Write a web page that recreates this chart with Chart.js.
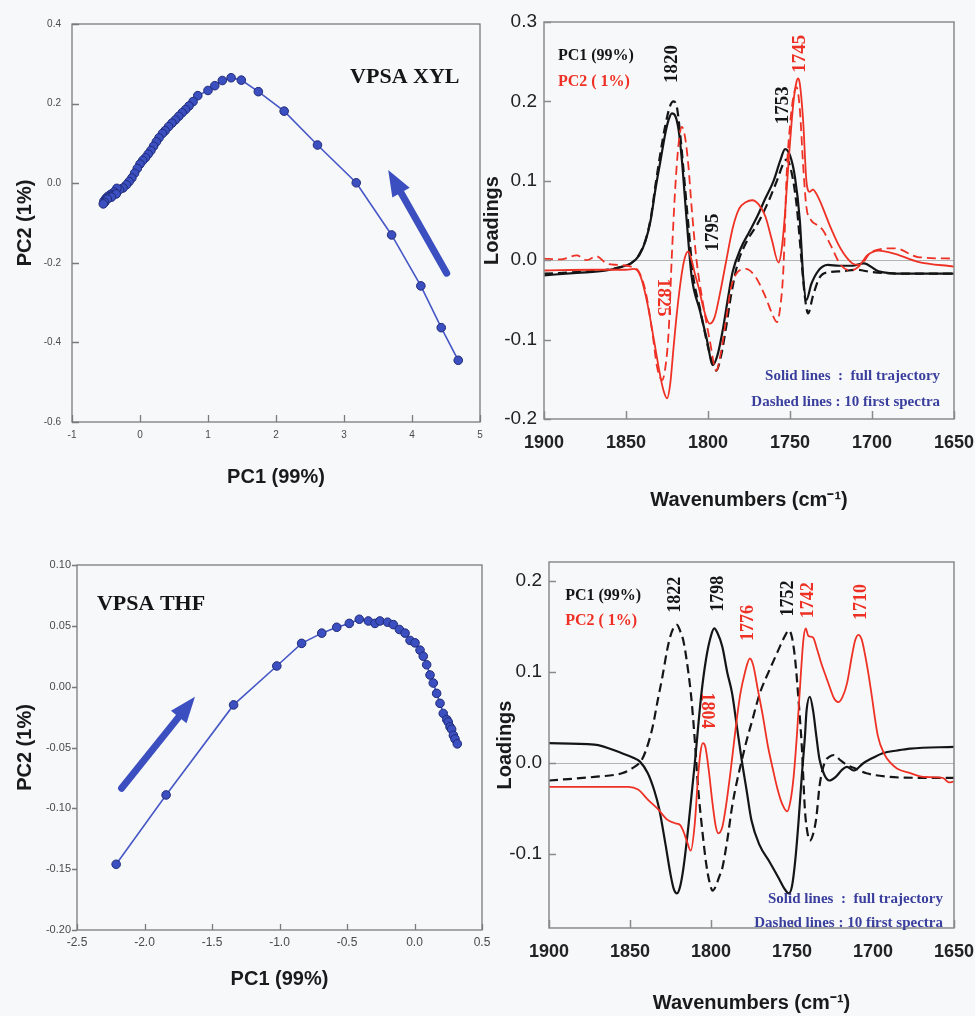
<!DOCTYPE html>
<html lang="en">
<head>
<meta charset="UTF-8">
<title>PCA score trajectories and loadings - VPSA XYL / VPSA THF</title>
<script src="https://cdn.jsdelivr.net/npm/chart.js@4/dist/chart.umd.min.js"></script>
<style>
  body { margin: 0; background: #f7f8fa; }
  #wrap { position: relative; width: 975px; height: 1016px; overflow: hidden; }
  .panel { position: absolute; }
  canvas { display: block; }
</style>
</head>
<body>
<div id="wrap">
  <div class="panel" style="left:0;top:0"><canvas id="xylScores" width="490" height="500"></canvas></div>
  <div class="panel" style="left:478px;top:0"><canvas id="xylLoadings" width="497" height="520"></canvas></div>
  <div class="panel" style="left:0;top:520px"><canvas id="thfScores" width="490" height="496"></canvas></div>
  <div class="panel" style="left:490px;top:520px"><canvas id="thfLoadings" width="485" height="496"></canvas></div>
</div>
<script>
// ---- score trajectories (PC1 vs PC2) ----
const xylPc1 = [4.68, 4.43, 4.13, 3.7, 3.18, 2.61, 2.12, 1.74, 1.49, 1.34, 1.21, 1.1, 1.0, 0.85, 0.78, 0.72, 0.67, 0.62, 0.57, 0.52, 0.47, 0.42, 0.37, 0.33, 0.28, 0.24, 0.2, 0.16, 0.12, 0.08, 0.04, 0.0, -0.04, -0.08, -0.12, -0.16, -0.2, -0.25, -0.3, -0.34, -0.38, -0.43, -0.47, -0.5, -0.53, -0.5, -0.45, -0.4, -0.35, -0.42, -0.48, -0.52, -0.54];
const xylPc2 = [-0.445, -0.363, -0.258, -0.13, 0.001, 0.096, 0.181, 0.23, 0.259, 0.265, 0.258, 0.245, 0.233, 0.22, 0.205, 0.194, 0.185, 0.177, 0.168, 0.159, 0.151, 0.142, 0.132, 0.125, 0.114, 0.104, 0.093, 0.082, 0.073, 0.064, 0.057, 0.048, 0.037, 0.025, 0.013, 0.004, -0.004, -0.012, -0.016, -0.013, -0.022, -0.028, -0.033, -0.038, -0.045, -0.042, -0.036, -0.03, -0.027, -0.035, -0.04, -0.048, -0.052];
const thfPc1 = [-2.21, -1.84, -1.34, -1.02, -0.836, -0.687, -0.576, -0.483, -0.409, -0.342, -0.293, -0.256, -0.2, -0.157, -0.112, -0.07, -0.033, 0.004, 0.041, 0.065, 0.09, 0.115, 0.139, 0.164, 0.189, 0.213, 0.239, 0.25, 0.263, 0.275, 0.288, 0.3, 0.317];
const thfPc2 = [-0.146, -0.089, -0.015, 0.017, 0.0356, 0.044, 0.0488, 0.052, 0.0554, 0.054, 0.052, 0.054, 0.053, 0.051, 0.047, 0.044, 0.038, 0.036, 0.03, 0.025, 0.018, 0.0096, 0.003, -0.0055, -0.0137, -0.022, -0.027, -0.029, -0.033, -0.035, -0.04, -0.043, -0.047];

const xylScoreXTicks = [-1, 0, 1, 2, 3, 4, 5];
const xylScoreYTicks = [-0.6, -0.4, -0.2, 0.0, 0.2, 0.4];
const thfScoreXTicks = [-2.5, -2.0, -1.5, -1.0, -0.5, 0.0, 0.5];
const thfScoreYTicks = [-0.20, -0.15, -0.10, -0.05, 0.00, 0.05, 0.10];

// direction arrows [PC1, PC2] tail -> head
const xylArrow = [[4.51, -0.226], [3.65, 0.033]];
const thfArrow = [[-2.17, -0.0835], [-1.626, -0.0083]];

// ---- loadings, VPSA XYL ----
const xylPc1SolidWn = [1900, 1880, 1862, 1852, 1847, 1842, 1838, 1835, 1832, 1829, 1826, 1824, 1822, 1820, 1818, 1816, 1813, 1810, 1805, 1801, 1797, 1794, 1791, 1788, 1785, 1780, 1775, 1770, 1765, 1760, 1756, 1753, 1750, 1747, 1744, 1742, 1740, 1737, 1733, 1727, 1720, 1712, 1705, 1696, 1680, 1650];
const xylPc1Solid = [-0.019, -0.016, -0.013, -0.008, -0.004, 0.006, 0.025, 0.05, 0.09, 0.125, 0.16, 0.177, 0.185, 0.182, 0.165, 0.128, 0.05, -0.02, -0.063, -0.097, -0.132, -0.118, -0.088, -0.05, -0.015, 0.015, 0.035, 0.055, 0.078, 0.1, 0.125, 0.14, 0.132, 0.105, 0.05, -0.02, -0.05, -0.03, -0.014, -0.006, -0.007, -0.007, -0.004, -0.014, -0.017, -0.017];
const xylPc1DashWn = [1900, 1880, 1862, 1852, 1847, 1842, 1838, 1835, 1832, 1829, 1826, 1823, 1821, 1819, 1817, 1815, 1812, 1809, 1805, 1801, 1798, 1795, 1792, 1789, 1786, 1782, 1776, 1770, 1764, 1758, 1754, 1752, 1749, 1746, 1743, 1741, 1739, 1736, 1732, 1726, 1718, 1710, 1700, 1680, 1650];
const xylPc1Dash = [-0.017, -0.015, -0.012, -0.008, -0.004, 0.007, 0.026, 0.052, 0.095, 0.135, 0.17, 0.195, 0.2, 0.193, 0.16, 0.115, 0.045, -0.02, -0.06, -0.1, -0.125, -0.139, -0.12, -0.085, -0.045, -0.005, 0.025, 0.045, 0.07, 0.1, 0.122, 0.127, 0.11, 0.07, 0.0, -0.045, -0.067, -0.045, -0.022, -0.015, -0.014, -0.012, -0.015, -0.017, -0.017];
const xylPc2SolidWn = [1900, 1870, 1850, 1845, 1841, 1837, 1833, 1829, 1827, 1825, 1823, 1821, 1819, 1816, 1814, 1812, 1810, 1808, 1805, 1803, 1799, 1796, 1793, 1789, 1785, 1781, 1777, 1773, 1769, 1765, 1761, 1757, 1755, 1753, 1751, 1748, 1746, 1745, 1744, 1742, 1740, 1738, 1736, 1733, 1730, 1725, 1719, 1712, 1708, 1703, 1696, 1686, 1672, 1650];
const xylPc2Solid = [-0.013, -0.012, -0.012, -0.011, -0.021, -0.054, -0.1, -0.147, -0.165, -0.174, -0.155, -0.11, -0.067, -0.017, 0.004, 0.011, 0.0, -0.017, -0.04, -0.059, -0.08, -0.072, -0.045, -0.002, 0.04, 0.065, 0.073, 0.0755, 0.07, 0.055, 0.025, -0.003, 0.015, 0.06, 0.12, 0.197, 0.225, 0.229, 0.222, 0.176, 0.1, 0.086, 0.089, 0.08, 0.066, 0.04, 0.014, -0.004, -0.006, 0.006, 0.012, 0.008, -0.002, -0.008];
const xylPc2DashWn = [1900, 1890, 1880, 1874, 1868, 1862, 1855, 1847, 1842, 1838, 1834, 1831, 1828, 1826, 1824, 1822, 1820, 1818, 1816, 1814, 1812, 1810, 1807, 1803, 1799, 1795, 1792, 1789, 1786, 1782, 1777, 1771, 1765, 1761, 1758, 1756, 1754, 1752, 1750, 1748, 1746, 1744, 1742, 1740, 1737, 1734, 1730, 1725, 1719, 1713, 1706, 1700, 1686, 1672, 1650];
const xylPc2Dash = [0.002, 0.001, 0.006, 0.0, 0.005, -0.004, -0.006, -0.008, -0.015, -0.04, -0.09, -0.135, -0.151, -0.135, -0.09, 0.008, 0.09, 0.145, 0.168, 0.155, 0.12, 0.067, 0.0, -0.055, -0.1, -0.139, -0.115, -0.075, -0.035, -0.015, -0.011, -0.021, -0.046, -0.067, -0.078, -0.06, -0.01, 0.11, 0.17, 0.205, 0.218, 0.19, 0.12, 0.067, 0.05, 0.045, 0.038, 0.018, -0.006, -0.013, -0.004, 0.011, 0.015, 0.004, 0.002];

// ---- loadings, VPSA THF ----
const thfPc1SolidWn = [1900, 1872, 1855, 1848, 1844, 1839, 1835, 1832, 1828, 1825, 1823, 1821, 1819, 1817, 1814, 1810, 1806, 1803, 1800, 1798, 1796, 1793, 1790, 1787, 1784, 1781, 1778, 1775, 1770, 1764, 1758, 1755, 1752, 1750, 1748, 1746, 1744, 1742, 1741, 1739, 1737, 1735, 1733, 1730, 1727, 1723, 1719, 1716, 1712, 1706, 1700, 1694, 1685, 1677, 1650];
const thfPc1Solid = [0.022, 0.0205, 0.011, 0.006, 0.002, -0.011, -0.03, -0.05, -0.09, -0.122, -0.138, -0.143, -0.135, -0.115, -0.07, 0.0, 0.075, 0.115, 0.14, 0.148, 0.143, 0.128, 0.1, 0.077, 0.04, 0.003, -0.03, -0.063, -0.09, -0.108, -0.127, -0.137, -0.143, -0.135, -0.107, -0.065, -0.015, 0.03, 0.058, 0.073, 0.058, 0.03, 0.004, -0.013, -0.019, -0.015, -0.007, -0.004, -0.008, 0.0, 0.006, 0.011, 0.014, 0.016, 0.018];
const thfPc1DashWn = [1900, 1872, 1855, 1849, 1843, 1840, 1836, 1833, 1830, 1827, 1825, 1823, 1821, 1819, 1817, 1814, 1812, 1810, 1808, 1805, 1803, 1801, 1799, 1797, 1795, 1793, 1790, 1787, 1784, 1781, 1778, 1775, 1770, 1764, 1760, 1757, 1754, 1752, 1750, 1748, 1746, 1744, 1742, 1741, 1739, 1737, 1735, 1733, 1730, 1727, 1724, 1720, 1716, 1712, 1704, 1690, 1673, 1650];
const thfPc1Dash = [-0.019, -0.015, -0.011, -0.006, 0.003, 0.015, 0.04, 0.068, 0.095, 0.125, 0.14, 0.149, 0.152, 0.145, 0.134, 0.1, 0.069, 0.025, -0.026, -0.08, -0.11, -0.13, -0.14, -0.135, -0.125, -0.115, -0.085, -0.048, -0.02, 0.003, 0.025, 0.044, 0.076, 0.102, 0.118, 0.13, 0.141, 0.146, 0.138, 0.113, 0.07, 0.02, -0.052, -0.07, -0.085, -0.078, -0.06, -0.025, 0.0, 0.007, 0.009, 0.003, -0.002, -0.005, -0.011, -0.015, -0.016, -0.016];
const thfPc2SolidWn = [1900, 1870, 1851, 1845, 1839, 1833, 1827, 1822, 1819, 1817, 1815, 1812.5, 1810, 1808, 1806.5, 1805, 1803.5, 1801.5, 1799, 1797, 1795.5, 1793, 1791, 1788, 1785, 1782, 1779, 1776, 1774, 1771, 1768, 1765, 1762, 1759, 1756, 1753, 1751, 1749, 1747, 1745, 1743, 1741.5, 1740, 1737, 1735, 1732, 1729, 1726, 1724, 1721.5, 1719, 1716, 1713, 1711, 1709, 1707, 1705, 1703, 1701, 1697, 1693, 1689, 1685, 1677, 1669, 1657, 1653, 1650];
const thfPc2Solid = [-0.026, -0.026, -0.026, -0.029, -0.04, -0.05, -0.062, -0.066, -0.068, -0.075, -0.085, -0.096, -0.066, -0.015, 0.012, 0.022, 0.018, -0.006, -0.045, -0.07, -0.077, -0.07, -0.05, -0.01, 0.035, 0.075, 0.1, 0.115, 0.108, 0.08, 0.052, 0.02, -0.005, -0.028, -0.045, -0.053, -0.042, -0.015, 0.03, 0.085, 0.135, 0.148, 0.14, 0.138, 0.128, 0.11, 0.095, 0.08, 0.071, 0.067, 0.072, 0.088, 0.118, 0.135, 0.141, 0.136, 0.12, 0.1, 0.077, 0.03, 0.01, 0.0, -0.006, -0.011, -0.015, -0.016, -0.021, -0.02];

const wnTicks = [1900, 1850, 1800, 1750, 1700, 1650];
const xylLoadTicks = [-0.2, -0.1, 0.0, 0.1, 0.2, 0.3];
const thfLoadTicks = [-0.1, 0.0, 0.1, 0.2];

// peak labels (wavenumber, loading at label centre)
const xylPeakText = ['1820', '1795', '1753', '1745', '1825'];
const xylPeakWn = [1822, 1797, 1754, 1744, 1827.5];
const xylPeakAt = [0.247, 0.035, 0.195, 0.26, -0.047];
const xylPeakPc = [1, 1, 1, 2, 2];
const thfPeakText = ['1822', '1798', '1776', '1752', '1742', '1710', '1804'];
const thfPeakWn = [1822, 1795.5, 1777, 1752.3, 1740, 1707, 1802.7];
const thfPeakAt = [0.185, 0.186, 0.154, 0.181, 0.179, 0.177, 0.058];
const thfPeakPc = [1, 1, 2, 1, 2, 2, 2];

const BLACK = '#151515';
const RED = '#ee3124';
const BLUE = '#3c4fc0';
const NOTE = '#3a3f9e';
const SERIF = "'Liberation Serif', 'Times New Roman', serif";

Chart.defaults.font.family = "'Liberation Sans', Arial, sans-serif";
Chart.defaults.animation = false;

// frame box + tick marks (negative length = inward for x, positive = inward for y)
const framePlugin = {
  id: 'frame',
  afterDatasetsDraw(chart, args, opts) {
    const { ctx, chartArea: a, scales: { x, y } } = chart;
    ctx.save();
    ctx.strokeStyle = opts.color;
    ctx.lineWidth = opts.width;
    ctx.strokeRect(a.left, a.top, a.right - a.left, a.bottom - a.top);
    ctx.beginPath();
    x.ticks.forEach(t => {
      const p = Math.round(x.getPixelForValue(t.value)) + 0.5;
      ctx.moveTo(p, a.bottom);
      ctx.lineTo(p, a.bottom + opts.xTick);
    });
    y.ticks.forEach(t => {
      const p = Math.round(y.getPixelForValue(t.value)) + 0.5;
      ctx.moveTo(a.left, p);
      ctx.lineTo(a.left + opts.yTick, p);
    });
    ctx.stroke();
    ctx.restore();
  }
};

// text placed in data units
const notePlugin = {
  id: 'notes',
  afterDatasetsDraw(chart, args, opts) {
    const { ctx, scales: { x, y } } = chart;
    (opts.items || []).forEach(n => {
      ctx.save();
      ctx.translate(x.getPixelForValue(n.x), y.getPixelForValue(n.y));
      ctx.rotate((n.rot || 0) * Math.PI / 180);
      ctx.font = n.font;
      ctx.fillStyle = n.color;
      ctx.textAlign = n.align || 'left';
      ctx.textBaseline = n.base || 'alphabetic';
      ctx.fillText(n.text, 0, 0);
      ctx.restore();
    });
  }
};

const arrowPlugin = {
  id: 'arrow',
  afterDatasetsDraw(chart, args, opts) {
    if (!opts.from) return;
    const { ctx, scales: { x, y } } = chart;
    const x0 = x.getPixelForValue(opts.from[0]), y0 = y.getPixelForValue(opts.from[1]);
    const x1 = x.getPixelForValue(opts.to[0]), y1 = y.getPixelForValue(opts.to[1]);
    const len = Math.hypot(x1 - x0, y1 - y0), head = 26, hw = 10;
    ctx.save();
    ctx.translate(x0, y0);
    ctx.rotate(Math.atan2(y1 - y0, x1 - x0));
    ctx.strokeStyle = opts.color;
    ctx.fillStyle = opts.color;
    ctx.lineWidth = 7;
    ctx.lineCap = 'round';
    ctx.beginPath();
    ctx.moveTo(0, 0);
    ctx.lineTo(len - head + 4, 0);
    ctx.stroke();
    ctx.beginPath();
    ctx.moveTo(len, 0);
    ctx.lineTo(len - head, -hw);
    ctx.lineTo(len - head, hw);
    ctx.closePath();
    ctx.fill();
    ctx.restore();
  }
};

Chart.register(framePlugin, notePlugin, arrowPlugin);

function pts(xs, ys) {
  return xs.map((v, i) => ({ x: v, y: ys[i] }));
}

function fixTicks(values) {
  return s => { s.ticks = values.map(v => ({ value: v })); };
}

function clean(v, d) {
  return (Math.abs(v) < 1e-9 ? 0 : v).toFixed(d);
}

// area = plot box inside the canvas; w/h = canvas size
function buildOptions(cfg) {
  const { area, w, h } = cfg;
  return {
    responsive: false,
    animation: false,
    layout: { padding: { left: 0, top: area.top, right: w - area.right, bottom: 0 } },
    plugins: {
      legend: { display: false },
      tooltip: { enabled: false },
      frame: cfg.frame,
      notes: { items: cfg.notes },
      arrow: cfg.arrow || {}
    },
    scales: {
      x: {
        type: 'linear',
        reverse: !!cfg.xReverse,
        min: cfg.xMin, max: cfg.xMax,
        afterBuildTicks: fixTicks(cfg.xTicks),
        // fixed axis band, no extra room for overhanging end labels
        afterFit: s => { s.height = h - area.bottom; s.paddingLeft = 0; s.paddingRight = 0; },
        border: { display: false },
        grid: { display: false, drawTicks: false },
        ticks: {
          padding: cfg.xPad,
          color: cfg.tickColor,
          font: cfg.xFont,
          maxRotation: 0,
          autoSkip: false,
          callback: v => clean(v, cfg.xDec)
        },
        title: {
          display: true, text: cfg.xTitle, color: '#1a1a1a',
          font: { size: 20, weight: 'bold' },
          padding: { top: 0, bottom: cfg.xTitlePad }
        }
      },
      y: {
        type: 'linear',
        min: cfg.yMin, max: cfg.yMax,
        afterBuildTicks: fixTicks(cfg.yTicks),
        afterFit: s => { s.width = area.left; s.paddingTop = 0; s.paddingBottom = 0; },
        border: { display: false },
        grid: {
          drawTicks: false,
          color: ctx => (cfg.zeroLine && ctx.tick && Math.abs(ctx.tick.value) < 1e-9) ? '#b4b4b4' : 'rgba(0,0,0,0)',
          lineWidth: 1
        },
        ticks: {
          padding: cfg.yPad,
          color: cfg.tickColor,
          font: cfg.yFont,
          autoSkip: false,
          callback: v => clean(v, cfg.yDec)
        },
        title: {
          display: true, text: cfg.yTitle, color: '#1a1a1a',
          font: { size: 20, weight: 'bold' },
          padding: { top: cfg.yTitlePad, bottom: 0 }
        }
      }
    }
  };
}

function scoreSet(xs, ys) {
  return {
    data: pts(xs, ys),
    showLine: true,
    borderColor: '#4657c6',
    borderWidth: 1.6,
    pointRadius: 4.3,
    pointBackgroundColor: BLUE,
    pointBorderColor: '#1f2b78',
    pointBorderWidth: 1,
    tension: 0
  };
}

function specSet(xs, ys, color, dashed) {
  return {
    data: pts(xs, ys),
    showLine: true,
    borderColor: color,
    borderWidth: color === RED ? 1.8 : 2.2,
    borderDash: dashed ? [9, 5] : [],
    pointRadius: 0,
    cubicInterpolationMode: 'monotone'
  };
}

function peakNotes(text, wn, at, pc, size) {
  return text.map((t, i) => ({
    text: t, x: wn[i], y: at[i],
    rot: (t === '1825' || t === '1804') ? 90 : -90,
    color: pc[i] === 1 ? BLACK : RED,
    font: 'bold ' + size + 'px ' + SERIF,
    align: 'center', base: 'middle'
  }));
}

function legendNotes(x, yPc1, yPc2, xRight, ySolid, yDash) {
  return [
    { text: 'PC1 (99%)', x: x, y: yPc1, color: BLACK, font: 'bold 16px ' + SERIF },
    { text: 'PC2 ( 1%)', x: x, y: yPc2, color: RED, font: 'bold 16px ' + SERIF },
    { text: 'Solid lines  :  full trajectory', x: xRight, y: ySolid, color: NOTE, font: 'bold 15px ' + SERIF, align: 'right' },
    { text: 'Dashed lines : 10 first spectra', x: xRight, y: yDash, color: NOTE, font: 'bold 15px ' + SERIF, align: 'right' }
  ];
}

// top-left: VPSA XYL scores
new Chart(document.getElementById('xylScores'), {
  type: 'scatter',
  data: { datasets: [scoreSet(xylPc1, xylPc2)] },
  options: buildOptions({
    area: { left: 72, top: 24, right: 480, bottom: 422 }, w: 490, h: 500,
    xMin: -1, xMax: 5, xTicks: xylScoreXTicks, xDec: 0,
    yMin: -0.6, yMax: 0.4, yTicks: xylScoreYTicks, yDec: 1,
    xFont: { size: 10 }, yFont: { size: 10 }, tickColor: '#4a4a4a',
    xPad: 7, yPad: 11,
    xTitle: 'PC1 (99%)', xTitlePad: 11, yTitle: 'PC2 (1%)', yTitlePad: 13,
    frame: { color: '#7a7a7a', width: 1.3, xTick: -7, yTick: 7 },
    notes: [{ text: 'VPSA XYL', x: 3.09, y: 0.252, color: BLACK, font: 'bold 22px ' + SERIF }],
    arrow: { from: xylArrow[0], to: xylArrow[1], color: BLUE }
  })
});

// top-right: VPSA XYL loadings
new Chart(document.getElementById('xylLoadings'), {
  type: 'scatter',
  data: {
    datasets: [
      specSet(xylPc2DashWn, xylPc2Dash, RED, true),
      specSet(xylPc2SolidWn, xylPc2Solid, RED, false),
      specSet(xylPc1DashWn, xylPc1Dash, BLACK, true),
      specSet(xylPc1SolidWn, xylPc1Solid, BLACK, false)
    ]
  },
  options: buildOptions({
    area: { left: 66, top: 22, right: 476, bottom: 419 }, w: 497, h: 520,
    xMin: 1650, xMax: 1900, xReverse: true, xTicks: wnTicks, xDec: 0,
    yMin: -0.2, yMax: 0.3, yTicks: xylLoadTicks, yDec: 1, zeroLine: true,
    xFont: { size: 18, weight: 'bold' }, yFont: { size: 19 }, tickColor: '#222',
    xPad: 13, yPad: 7,
    xTitle: 'Wavenumbers (cm\u207B\u00B9)', xTitlePad: 8, yTitle: 'Loadings', yTitlePad: 2,
    frame: { color: '#8a8a8a', width: 1.5, xTick: -8, yTick: 7 },
    notes: peakNotes(xylPeakText, xylPeakWn, xylPeakAt, xylPeakPc, 19)
      .concat(legendNotes(1891.5, 0.252, 0.219, 1658.5, -0.151, -0.183))
  })
});

// bottom-left: VPSA THF scores
new Chart(document.getElementById('thfScores'), {
  type: 'scatter',
  data: { datasets: [scoreSet(thfPc1, thfPc2)] },
  options: buildOptions({
    area: { left: 77, top: 45, right: 482, bottom: 410 }, w: 490, h: 496,
    xMin: -2.5, xMax: 0.5, xTicks: thfScoreXTicks, xDec: 1,
    yMin: -0.2, yMax: 0.1, yTicks: thfScoreYTicks, yDec: 2,
    xFont: { size: 12 }, yFont: { size: 11 }, tickColor: '#4a4a4a',
    xPad: 5, yPad: 6,
    xTitle: 'PC1 (99%)', xTitlePad: 25, yTitle: 'PC2 (1%)', yTitlePad: 13,
    frame: { color: '#7a7a7a', width: 1.3, xTick: -6, yTick: -5 },
    notes: [{ text: 'VPSA THF', x: -2.352, y: 0.063, color: BLACK, font: 'bold 22px ' + SERIF }],
    arrow: { from: thfArrow[0], to: thfArrow[1], color: BLUE }
  })
});

// bottom-right: VPSA THF loadings
new Chart(document.getElementById('thfLoadings'), {
  type: 'scatter',
  data: {
    datasets: [
      specSet(thfPc2SolidWn, thfPc2Solid, RED, false),
      specSet(thfPc1DashWn, thfPc1Dash, BLACK, true),
      specSet(thfPc1SolidWn, thfPc1Solid, BLACK, false)
    ]
  },
  options: buildOptions({
    area: { left: 59, top: 42, right: 464, bottom: 408 }, w: 485, h: 496,
    xMin: 1650, xMax: 1900, xReverse: true, xTicks: wnTicks, xDec: 0,
    yMin: -0.181, yMax: 0.221, yTicks: thfLoadTicks, yDec: 1, zeroLine: true,
    xFont: { size: 18, weight: 'bold' }, yFont: { size: 19 }, tickColor: '#222',
    xPad: 13, yPad: 7,
    xTitle: 'Wavenumbers (cm\u207B\u00B9)', xTitlePad: 1, yTitle: 'Loadings', yTitlePad: 3,
    frame: { color: '#8a8a8a', width: 1.5, xTick: -8, yTick: 7 },
    notes: peakNotes(thfPeakText, thfPeakWn, thfPeakAt, thfPeakPc, 18)
      .concat(legendNotes(1890, 0.179, 0.152, 1656.8, -0.153, -0.180))
  })
});
</script>
</body>
</html>
